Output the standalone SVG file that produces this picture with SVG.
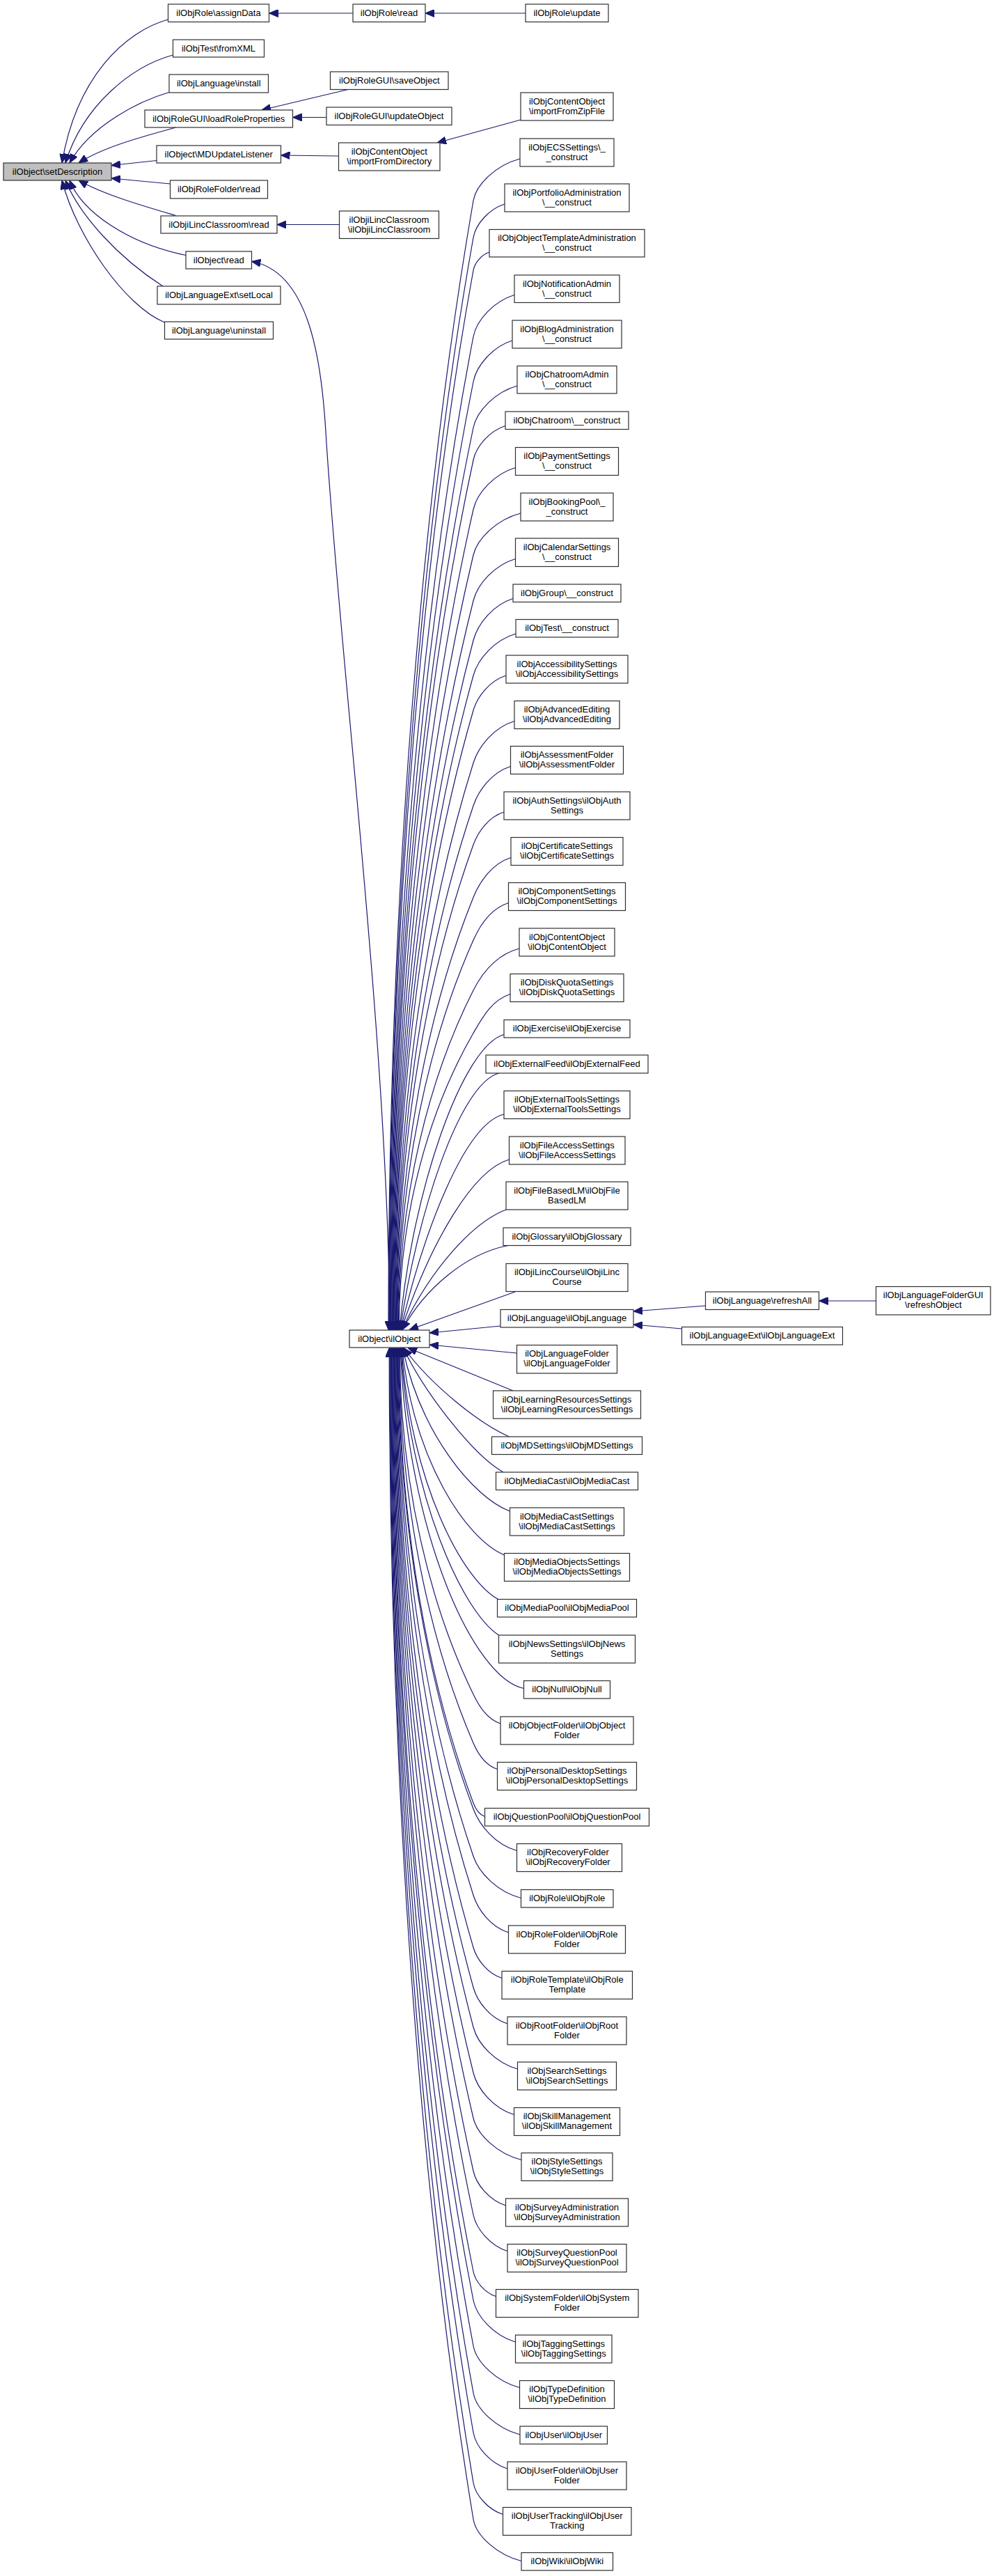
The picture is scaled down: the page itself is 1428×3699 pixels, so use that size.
<svg xmlns="http://www.w3.org/2000/svg" width="1428" height="3699" viewBox="0 0 1428 3699">
<defs>
<style>
.node rect{fill:#ffffff;stroke:#303030;stroke-width:1.2}
.root rect{fill:#bfbfbf}
.node text{font-family:"Liberation Sans",Arial,Helvetica,sans-serif;font-size:13px;fill:#000;text-anchor:middle}
.e{fill:none;stroke:#191970;stroke-width:1.2;marker-end:url(#ah)}
</style>
<marker id="ah" markerUnits="userSpaceOnUse" viewBox="0 0 13 11" markerWidth="13" markerHeight="11" refX="13" refY="5.5" orient="auto">
<path d="M0,0 L13,5.5 L0,11 z" fill="#191970" stroke="#191970" stroke-width="1"/>
</marker>
</defs>
<rect x="0" y="0" width="1428" height="3699" fill="#ffffff"/>
<g id="edges">
<path class="e" d="M241.5,28 C180,45 110,110 89,234"/>
<path class="e" d="M248.5,79 C190,95 120,150 94,234"/>
<path class="e" d="M243,132.5 C200,145 130,180 100,234"/>
<path class="e" d="M252.5,183 C210,195 150,210 113,234"/>
<path class="e" d="M225,230.5 L160,237.5"/>
<path class="e" d="M244.5,264 L160,256"/>
<path class="e" d="M252.5,309.5 C210,297 150,280 113,259"/>
<path class="e" d="M267,366.5 C185,350 118,305 100,259"/>
<path class="e" d="M234,411 C170,370 115,310 94,259"/>
<path class="e" d="M236.5,463 C180,440 110,340 89,259"/>
<path class="e" d="M507,19 L386.5,19"/>
<path class="e" d="M755,19 L611,19"/>
<path class="e" d="M500,128.5 L376,158"/>
<path class="e" d="M469,168.5 L420.5,168.5"/>
<path class="e" d="M486.5,224 L403.5,223"/>
<path class="e" d="M487.5,322.5 L398,322.5"/>
<path class="e" d="M748,172 L628,205"/>
<path class="e" d="M1013.5,1875 L910,1883"/>
<path class="e" d="M979.5,1908 L910,1902"/>
<path class="e" d="M1258.5,1868 L1176.5,1868"/>
<path class="e" d="M560,1909.5 C558,1500 488,950 468,620 C462,520 445,390 361.5,375.5"/>
<path class="e" d="M719,1904 L617,1914"/>
<path class="e" d="M742.5,1943 L617,1931"/>
<path class="e" d="M740,1855 L588,1909.5"/>
<path class="e" d="M737,1997 L586,1935.5"/>
<path class="e" d="M747,228 C713.5,237 684.2,264 680,288 C609.9,693.4 558,1260.9 558,1909.5"/>
<path class="e" d="M725,293 C702.5,300.2 683.4,321.8 680,341 C610.2,733.1 558.8,1282.1 558.8,1909.5"/>
<path class="e" d="M703,362 C691.5,365.9 681.9,377.6 680,388 C610.8,768.4 559.6,1300.9 559.6,1909.5"/>
<path class="e" d="M739,423.5 C709.5,432.5 684.6,459.5 680,483.5 C611.2,840 560.4,1339.1 560.4,1909.5"/>
<path class="e" d="M736,489 C708,497.9 684.7,524.4 680,548 C611.9,888.4 561.2,1364.9 561.2,1909.5"/>
<path class="e" d="M743,554 C711.5,563 685,590 680,614 C612,937.9 562,1391.3 562,1909.5"/>
<path class="e" d="M726,611.5 C703,618.9 684.2,640.9 680,660.5 C612.6,972.8 562.8,1409.9 562.8,1909.5"/>
<path class="e" d="M740.5,671.5 C710.3,680.5 685.4,707.5 680,731.5 C613.1,1026 563.6,1438.3 563.6,1909.5"/>
<path class="e" d="M748,737 C714,746 685.7,773 680,797 C613.5,1075.1 564.4,1464.5 564.4,1909.5"/>
<path class="e" d="M740.5,802.5 C710.3,811.5 686,838.5 680,862.5 C614,1124.3 565.2,1490.7 565.2,1909.5"/>
<path class="e" d="M737,859.5 C708.5,868.5 686.4,895.5 680,919.5 C614.4,1167 566,1513.5 566,1909.5"/>
<path class="e" d="M741,910 C710.5,919 686.6,946 680,970 C614.9,1204.9 566.8,1533.7 566.8,1909.5"/>
<path class="e" d="M727,970 C703.5,977.5 685.8,1000 680,1020 C615.3,1242.4 567.6,1553.7 567.6,1909.5"/>
<path class="e" d="M739,1035.5 C709.5,1044.5 687.6,1071.5 680,1095.5 C615.9,1299 568.4,1583.9 568.4,1909.5"/>
<path class="e" d="M733.5,1100.5 C706.8,1109 687.7,1134.4 680,1157 C616.2,1345.1 569.2,1608.5 569.2,1909.5"/>
<path class="e" d="M724,1166 C702,1173 686.8,1194.2 680,1213 C616.8,1387.1 570,1630.9 570,1909.5"/>
<path class="e" d="M734,1231.5 C707,1240 689.2,1265.7 680,1288.5 C617.3,1443.8 570.8,1661.1 570.8,1909.5"/>
<path class="e" d="M730.5,1296.5 C705.3,1304.5 689.5,1328.6 680,1350 C617.6,1489.9 571.6,1685.7 571.6,1909.5"/>
<path class="e" d="M746,1362 C713,1371 692.2,1398 680,1422 C618.1,1543.9 572.4,1714.5 572.4,1909.5"/>
<path class="e" d="M733,1427.5 C706.5,1435.9 692.9,1461.1 680,1483.5 C618.6,1590 573.2,1739.1 573.2,1909.5"/>
<path class="e" d="M724,1485.5 C664,1502.5 592,1710 574,1909.5"/>
<path class="e" d="M717,1541 C660,1555.7 599,1743.7 574.8,1909.5"/>
<path class="e" d="M724,1600 C667,1614 608.2,1770.2 575.6,1909.5"/>
<path class="e" d="M731.5,1665 C680,1680 620,1780 576.4,1909.5"/>
<path class="e" d="M727,1737 C680,1755 620,1820 577.2,1909.5"/>
<path class="e" d="M730,1788.5 C670,1800 610,1850 578,1909.5"/>
<path class="e" d="M731.5,2063 C690,2045 620,1990 580,1935.5"/>
<path class="e" d="M723,2114 C680,2090 610,2000 579.2,1935.5"/>
<path class="e" d="M732.5,2170 C680,2150 605,2060 578.4,1935.5"/>
<path class="e" d="M724.5,2233 C670,2210 595,2100 577.6,1935.5"/>
<path class="e" d="M716.5,2297 C665,2270 590,2130 576.8,1935.5"/>
<path class="e" d="M716.5,2348 C665,2315 588,2150 576,1935.5"/>
<path class="e" d="M752.5,2424.5 C680,2410 585,2200 575.2,1935.5"/>
<path class="e" d="M719,2475 C699.5,2468.7 688.2,2449.8 680,2433 C619.3,2308.6 574.4,2134.5 574.4,1935.5"/>
<path class="e" d="M714.5,2540.5 C697.3,2534.9 686.5,2518 680,2503 C618.8,2361.1 573.6,2162.5 573.6,1935.5"/>
<path class="e" d="M696.5,2608.5 C688.3,2605.6 682.9,2596.8 680,2589 C618.4,2425.6 572.8,2196.9 572.8,1935.5"/>
<path class="e" d="M742.5,2657.5 C711.3,2648.5 689,2621.5 680,2597.5 C617.9,2432 572,2200.3 572,1935.5"/>
<path class="e" d="M748.5,2725.5 C714.3,2716.5 688.2,2689.5 680,2665.5 C617.4,2483 571.2,2227.5 571.2,1935.5"/>
<path class="e" d="M730.5,2775 C705.3,2767 686.9,2742.9 680,2721.5 C616.9,2525 570.4,2249.9 570.4,1935.5"/>
<path class="e" d="M721,2840.5 C700.5,2833.9 685.2,2814.1 680,2796.5 C616.5,2581.3 569.6,2279.9 569.6,1935.5"/>
<path class="e" d="M729,2906 C704.5,2898.2 685.8,2874.8 680,2854 C616.2,2624.4 568.8,2302.9 568.8,1935.5"/>
<path class="e" d="M743.5,2971 C711.8,2962 686.3,2935 680,2911 C615.6,2667.1 568,2325.7 568,1935.5"/>
<path class="e" d="M738.5,3036.5 C709.3,3027.5 686,3000.5 680,2976.5 C615.2,2716.3 567.2,2351.9 567.2,1935.5"/>
<path class="e" d="M749,3101.5 C714.5,3092.5 685.7,3065.5 680,3041.5 C614.7,2765 566.4,2377.9 566.4,1935.5"/>
<path class="e" d="M726.5,3167 C703.3,3159.6 684.4,3137.3 680,3117.5 C614.1,2822 565.6,2408.3 565.6,1935.5"/>
<path class="e" d="M729,3232.5 C704.5,3224.7 684.4,3201.3 680,3180.5 C613.7,2869.3 564.8,2433.5 564.8,1935.5"/>
<path class="e" d="M712.5,3297.5 C696.3,3292.2 682.9,3276.2 680,3262 C613.3,2930.4 564,2466.1 564,1935.5"/>
<path class="e" d="M740.5,3363 C710.3,3354 684.7,3327 680,3303 C613,2961.1 563.2,2482.5 563.2,1935.5"/>
<path class="e" d="M746.5,3428.5 C713.3,3419.5 684.5,3392.5 680,3368.5 C612.3,3010.3 562.4,2508.7 562.4,1935.5"/>
<path class="e" d="M747,3496 C713.5,3487 684.3,3460 680,3436 C612.1,3060.9 561.6,2535.7 561.6,1935.5"/>
<path class="e" d="M729,3545 C704.5,3537.2 683.7,3513.8 680,3493 C611.5,3103.6 560.8,2558.5 560.8,1935.5"/>
<path class="e" d="M722.5,3610.5 C701.3,3603.7 683.1,3583.2 680,3565 C611.1,3157.6 560,2587.3 560,1935.5"/>
<path class="e" d="M749,3677.5 C714.5,3668.5 684,3641.5 680,3617.5 C610.6,3197 559.2,2608.3 559.2,1935.5"/>
</g>
<g id="n_setDescription" class="node root"><rect x="5" y="234" width="155" height="25"/><text x="82.5" y="250.5">ilObject\setDescription</text></g>
<g id="n_assignData" class="node"><rect x="241.5" y="6" width="145" height="25.5"/><text x="314" y="22.5">ilObjRole\assignData</text></g>
<g id="n_fromXML" class="node"><rect x="248.5" y="57" width="131" height="25"/><text x="314" y="73.5">ilObjTest\fromXML</text></g>
<g id="n_install" class="node"><rect x="243" y="107" width="142.5" height="26"/><text x="314.25" y="123.5">ilObjLanguage\install</text></g>
<g id="n_loadRoleProperties" class="node"><rect x="208" y="158" width="212.5" height="25"/><text x="314.25" y="174.5">ilObjRoleGUI\loadRoleProperties</text></g>
<g id="n_MDUpdateListener" class="node"><rect x="225" y="209" width="178.5" height="25"/><text x="314.25" y="225.5">ilObject\MDUpdateListener</text></g>
<g id="n_RoleFolderRead" class="node"><rect x="244.5" y="259" width="140" height="26"/><text x="314.5" y="275.5">ilObjRoleFolder\read</text></g>
<g id="n_iLincClassroomRead" class="node"><rect x="231" y="310" width="167" height="25"/><text x="314.5" y="326.5">ilObjiLincClassroom\read</text></g>
<g id="n_ilObjectRead" class="node"><rect x="267" y="361" width="94.5" height="25"/><text x="314.25" y="377.5">ilObject\read</text></g>
<g id="n_setLocal" class="node"><rect x="226" y="411" width="177" height="26"/><text x="314.5" y="427.5">ilObjLanguageExt\setLocal</text></g>
<g id="n_uninstall" class="node"><rect x="236.5" y="462" width="156" height="25"/><text x="314.5" y="478.5">ilObjLanguage\uninstall</text></g>
<g id="n_RoleRead" class="node"><rect x="507" y="6" width="104" height="25.5"/><text x="559" y="22.5">ilObjRole\read</text></g>
<g id="n_saveObject" class="node"><rect x="474.5" y="103" width="169.5" height="25.5"/><text x="559.25" y="119.5">ilObjRoleGUI\saveObject</text></g>
<g id="n_updateObject" class="node"><rect x="469" y="154" width="180" height="25.5"/><text x="559" y="170.5">ilObjRoleGUI\updateObject</text></g>
<g id="n_importFromDirectory" class="node"><rect x="486.5" y="205" width="145.5" height="40"/><text><tspan x="559.25" y="221.5">ilObjContentObject</tspan><tspan x="559.25" y="235.5">\importFromDirectory</tspan></text></g>
<g id="n_iLincClassroomCtor" class="node"><rect x="487.5" y="303" width="143" height="39.5"/><text><tspan x="559" y="319.5">ilObjiLincClassroom</tspan><tspan x="559" y="333.5">\ilObjiLincClassroom</tspan></text></g>
<g id="n_ilObjectCtor" class="node"><rect x="502" y="1910" width="115" height="25"/><text x="559.5" y="1926.5">ilObject\ilObject</text></g>
<g id="n_RoleUpdate" class="node"><rect x="755" y="6" width="119" height="25.5"/><text x="814.5" y="22.5">ilObjRole\update</text></g>
<g id="n_importFromZipFile" class="node"><rect x="748" y="133" width="133" height="40"/><text><tspan x="814.5" y="149.5">ilObjContentObject</tspan><tspan x="814.5" y="163.5">\importFromZipFile</tspan></text></g>
<g id="n_ECSSettings" class="node"><rect x="747" y="199" width="135" height="40"/><text><tspan x="814.5" y="215.5">ilObjECSSettings\_</tspan><tspan x="814.5" y="229.5">_construct</tspan></text></g>
<g id="n_Portfolio" class="node"><rect x="725" y="264" width="179" height="40"/><text><tspan x="814.5" y="280.5">ilObjPortfolioAdministration</tspan><tspan x="814.5" y="294.5">\__construct</tspan></text></g>
<g id="n_ObjectTemplate" class="node"><rect x="703" y="329.5" width="223" height="39.5"/><text><tspan x="814.5" y="346">ilObjObjectTemplateAdministration</tspan><tspan x="814.5" y="360">\__construct</tspan></text></g>
<g id="n_NotificationAdmin" class="node"><rect x="739" y="395" width="151" height="39.5"/><text><tspan x="814.5" y="411.5">ilObjNotificationAdmin</tspan><tspan x="814.5" y="425.5">\__construct</tspan></text></g>
<g id="n_BlogAdmin" class="node"><rect x="736" y="460" width="157" height="40"/><text><tspan x="814.5" y="476.5">ilObjBlogAdministration</tspan><tspan x="814.5" y="490.5">\__construct</tspan></text></g>
<g id="n_ChatroomAdmin" class="node"><rect x="743" y="525.5" width="143" height="39.5"/><text><tspan x="814.5" y="542">ilObjChatroomAdmin</tspan><tspan x="814.5" y="556">\__construct</tspan></text></g>
<g id="n_Chatroom" class="node"><rect x="726" y="591" width="177" height="25.5"/><text x="814.5" y="607.5">ilObjChatroom\__construct</text></g>
<g id="n_Payment" class="node"><rect x="740.5" y="642.5" width="148" height="40"/><text><tspan x="814.5" y="659">ilObjPaymentSettings</tspan><tspan x="814.5" y="673">\__construct</tspan></text></g>
<g id="n_BookingPool" class="node"><rect x="748" y="708" width="133" height="40"/><text><tspan x="814.5" y="724.5">ilObjBookingPool\_</tspan><tspan x="814.5" y="738.5">_construct</tspan></text></g>
<g id="n_Calendar" class="node"><rect x="740.5" y="773" width="148" height="40.5"/><text><tspan x="814.5" y="789.5">ilObjCalendarSettings</tspan><tspan x="814.5" y="803.5">\__construct</tspan></text></g>
<g id="n_Group" class="node"><rect x="737" y="839" width="155" height="25.5"/><text x="814.5" y="855.5">ilObjGroup\__construct</text></g>
<g id="n_Test" class="node"><rect x="741" y="889.5" width="147" height="25.5"/><text x="814.5" y="906">ilObjTest\__construct</text></g>
<g id="n_Accessibility" class="node"><rect x="727" y="941" width="175" height="40"/><text><tspan x="814.5" y="957.5">ilObjAccessibilitySettings</tspan><tspan x="814.5" y="971.5">\ilObjAccessibilitySettings</tspan></text></g>
<g id="n_AdvancedEditing" class="node"><rect x="739" y="1006.5" width="151" height="40"/><text><tspan x="814.5" y="1023">ilObjAdvancedEditing</tspan><tspan x="814.5" y="1037">\ilObjAdvancedEditing</tspan></text></g>
<g id="n_AssessmentFolder" class="node"><rect x="733.5" y="1071.5" width="162" height="40"/><text><tspan x="814.5" y="1088">ilObjAssessmentFolder</tspan><tspan x="814.5" y="1102">\ilObjAssessmentFolder</tspan></text></g>
<g id="n_AuthSettings" class="node"><rect x="724" y="1137" width="181" height="40"/><text><tspan x="814.5" y="1153.5">ilObjAuthSettings\ilObjAuth</tspan><tspan x="814.5" y="1167.5">Settings</tspan></text></g>
<g id="n_Certificate" class="node"><rect x="734" y="1202.5" width="161" height="40"/><text><tspan x="814.5" y="1219">ilObjCertificateSettings</tspan><tspan x="814.5" y="1233">\ilObjCertificateSettings</tspan></text></g>
<g id="n_Component" class="node"><rect x="730.5" y="1267.5" width="168" height="40"/><text><tspan x="814.5" y="1284">ilObjComponentSettings</tspan><tspan x="814.5" y="1298">\ilObjComponentSettings</tspan></text></g>
<g id="n_ContentObject" class="node"><rect x="746" y="1333" width="137" height="40"/><text><tspan x="814.5" y="1349.5">ilObjContentObject</tspan><tspan x="814.5" y="1363.5">\ilObjContentObject</tspan></text></g>
<g id="n_DiskQuota" class="node"><rect x="733" y="1398.5" width="163" height="40"/><text><tspan x="814.5" y="1415">ilObjDiskQuotaSettings</tspan><tspan x="814.5" y="1429">\ilObjDiskQuotaSettings</tspan></text></g>
<g id="n_Exercise" class="node"><rect x="724" y="1464.5" width="181" height="25.5"/><text x="814.5" y="1481">ilObjExercise\ilObjExercise</text></g>
<g id="n_ExternalFeed" class="node"><rect x="698" y="1515" width="233" height="26"/><text x="814.5" y="1531.5">ilObjExternalFeed\ilObjExternalFeed</text></g>
<g id="n_ExternalTools" class="node"><rect x="724" y="1566.5" width="181" height="40"/><text><tspan x="814.5" y="1583">ilObjExternalToolsSettings</tspan><tspan x="814.5" y="1597">\ilObjExternalToolsSettings</tspan></text></g>
<g id="n_FileAccess" class="node"><rect x="731.5" y="1632" width="166.5" height="40"/><text><tspan x="814.75" y="1648.5">ilObjFileAccessSettings</tspan><tspan x="814.75" y="1662.5">\ilObjFileAccessSettings</tspan></text></g>
<g id="n_FileBasedLM" class="node"><rect x="727" y="1697" width="175" height="40"/><text><tspan x="814.5" y="1713.5">ilObjFileBasedLM\ilObjFile</tspan><tspan x="814.5" y="1727.5">BasedLM</tspan></text></g>
<g id="n_Glossary" class="node"><rect x="723" y="1763" width="183" height="25.5"/><text x="814.5" y="1779.5">ilObjGlossary\ilObjGlossary</text></g>
<g id="n_iLincCourse" class="node"><rect x="727" y="1814.5" width="175" height="40"/><text><tspan x="814.5" y="1831">ilObjiLincCourse\ilObjiLinc</tspan><tspan x="814.5" y="1845">Course</tspan></text></g>
<g id="n_Language" class="node"><rect x="719" y="1880.5" width="191" height="25.5"/><text x="814.5" y="1897">ilObjLanguage\ilObjLanguage</text></g>
<g id="n_LanguageFolder" class="node"><rect x="742.5" y="1931.5" width="144" height="40.5"/><text><tspan x="814.5" y="1948">ilObjLanguageFolder</tspan><tspan x="814.5" y="1962">\ilObjLanguageFolder</tspan></text></g>
<g id="n_LearningResources" class="node"><rect x="708.5" y="1997" width="212" height="40"/><text><tspan x="814.5" y="2013.5">ilObjLearningResourcesSettings</tspan><tspan x="814.5" y="2027.5">\ilObjLearningResourcesSettings</tspan></text></g>
<g id="n_MDSettings" class="node"><rect x="706.5" y="2063" width="216" height="25.5"/><text x="814.5" y="2079.5">ilObjMDSettings\ilObjMDSettings</text></g>
<g id="n_MediaCast" class="node"><rect x="712.5" y="2114" width="204" height="25.5"/><text x="814.5" y="2130.5">ilObjMediaCast\ilObjMediaCast</text></g>
<g id="n_MediaCastSettings" class="node"><rect x="732.5" y="2165" width="164" height="40"/><text><tspan x="814.5" y="2181.5">ilObjMediaCastSettings</tspan><tspan x="814.5" y="2195.5">\ilObjMediaCastSettings</tspan></text></g>
<g id="n_MediaObjects" class="node"><rect x="724.5" y="2230.5" width="180" height="40"/><text><tspan x="814.5" y="2247">ilObjMediaObjectsSettings</tspan><tspan x="814.5" y="2261">\ilObjMediaObjectsSettings</tspan></text></g>
<g id="n_MediaPool" class="node"><rect x="714.5" y="2296.5" width="200" height="25.5"/><text x="814.5" y="2313">ilObjMediaPool\ilObjMediaPool</text></g>
<g id="n_NewsSettings" class="node"><rect x="716.5" y="2348" width="196" height="40"/><text><tspan x="814.5" y="2364.5">ilObjNewsSettings\ilObjNews</tspan><tspan x="814.5" y="2378.5">Settings</tspan></text></g>
<g id="n_Null" class="node"><rect x="752.5" y="2413.5" width="124" height="25.5"/><text x="814.5" y="2430">ilObjNull\ilObjNull</text></g>
<g id="n_ObjectFolder" class="node"><rect x="719" y="2465" width="191" height="40"/><text><tspan x="814.5" y="2481.5">ilObjObjectFolder\ilObjObject</tspan><tspan x="814.5" y="2495.5">Folder</tspan></text></g>
<g id="n_PersonalDesktop" class="node"><rect x="714.5" y="2530.5" width="200" height="40"/><text><tspan x="814.5" y="2547">ilObjPersonalDesktopSettings</tspan><tspan x="814.5" y="2561">\ilObjPersonalDesktopSettings</tspan></text></g>
<g id="n_QuestionPool" class="node"><rect x="696.5" y="2596.5" width="236" height="25.5"/><text x="814.5" y="2613">ilObjQuestionPool\ilObjQuestionPool</text></g>
<g id="n_RecoveryFolder" class="node"><rect x="742.5" y="2647.5" width="151" height="40"/><text><tspan x="816" y="2664">ilObjRecoveryFolder</tspan><tspan x="816" y="2678">\ilObjRecoveryFolder</tspan></text></g>
<g id="n_Role" class="node"><rect x="748.5" y="2713.5" width="132.5" height="25.5"/><text x="814.75" y="2730">ilObjRole\ilObjRole</text></g>
<g id="n_RoleFolder" class="node"><rect x="730.5" y="2765" width="168" height="40"/><text><tspan x="814.5" y="2781.5">ilObjRoleFolder\ilObjRole</tspan><tspan x="814.5" y="2795.5">Folder</tspan></text></g>
<g id="n_RoleTemplate" class="node"><rect x="721" y="2830.5" width="187.5" height="40"/><text><tspan x="814.75" y="2847">ilObjRoleTemplate\ilObjRole</tspan><tspan x="814.75" y="2861">Template</tspan></text></g>
<g id="n_RootFolder" class="node"><rect x="729" y="2896" width="171" height="40"/><text><tspan x="814.5" y="2912.5">ilObjRootFolder\ilObjRoot</tspan><tspan x="814.5" y="2926.5">Folder</tspan></text></g>
<g id="n_SearchSettings" class="node"><rect x="743.5" y="2961" width="142" height="40"/><text><tspan x="814.5" y="2977.5">ilObjSearchSettings</tspan><tspan x="814.5" y="2991.5">\ilObjSearchSettings</tspan></text></g>
<g id="n_SkillManagement" class="node"><rect x="738.5" y="3026.5" width="152" height="40"/><text><tspan x="814.5" y="3043">ilObjSkillManagement</tspan><tspan x="814.5" y="3057">\ilObjSkillManagement</tspan></text></g>
<g id="n_StyleSettings" class="node"><rect x="749" y="3091.5" width="131" height="40"/><text><tspan x="814.5" y="3108">ilObjStyleSettings</tspan><tspan x="814.5" y="3122">\ilObjStyleSettings</tspan></text></g>
<g id="n_SurveyAdministration" class="node"><rect x="726.5" y="3157" width="176" height="40"/><text><tspan x="814.5" y="3173.5">ilObjSurveyAdministration</tspan><tspan x="814.5" y="3187.5">\ilObjSurveyAdministration</tspan></text></g>
<g id="n_SurveyQuestionPool" class="node"><rect x="729" y="3222.5" width="171" height="40"/><text><tspan x="814.5" y="3239">ilObjSurveyQuestionPool</tspan><tspan x="814.5" y="3253">\ilObjSurveyQuestionPool</tspan></text></g>
<g id="n_SystemFolder" class="node"><rect x="712.5" y="3287.5" width="204.5" height="40"/><text><tspan x="814.75" y="3304">ilObjSystemFolder\ilObjSystem</tspan><tspan x="814.75" y="3318">Folder</tspan></text></g>
<g id="n_TaggingSettings" class="node"><rect x="740.5" y="3353" width="138.5" height="40"/><text><tspan x="809.75" y="3369.5">ilObjTaggingSettings</tspan><tspan x="809.75" y="3383.5">\ilObjTaggingSettings</tspan></text></g>
<g id="n_TypeDefinition" class="node"><rect x="746.5" y="3418.5" width="136" height="40"/><text><tspan x="814.5" y="3435">ilObjTypeDefinition</tspan><tspan x="814.5" y="3449">\ilObjTypeDefinition</tspan></text></g>
<g id="n_User" class="node"><rect x="747" y="3484" width="125.5" height="25.5"/><text x="809.75" y="3500.5">ilObjUser\ilObjUser</text></g>
<g id="n_UserFolder" class="node"><rect x="729" y="3535" width="171" height="40"/><text><tspan x="814.5" y="3551.5">ilObjUserFolder\ilObjUser</tspan><tspan x="814.5" y="3565.5">Folder</tspan></text></g>
<g id="n_UserTracking" class="node"><rect x="722.5" y="3600.5" width="184.5" height="40"/><text><tspan x="814.75" y="3617">ilObjUserTracking\ilObjUser</tspan><tspan x="814.75" y="3631">Tracking</tspan></text></g>
<g id="n_Wiki" class="node"><rect x="749" y="3665.5" width="131.5" height="25.5"/><text x="814.75" y="3682">ilObjWiki\ilObjWiki</text></g>
<g id="n_refreshAll" class="node"><rect x="1013.5" y="1855" width="163" height="25.5"/><text x="1095" y="1871.5">ilObjLanguage\refreshAll</text></g>
<g id="n_LanguageExt" class="node"><rect x="979.5" y="1905.5" width="231" height="25.5"/><text x="1095" y="1922">ilObjLanguageExt\ilObjLanguageExt</text></g>
<g id="n_LanguageFolderGUI" class="node"><rect x="1258.5" y="1847.5" width="164.5" height="40.5"/><text><tspan x="1340.75" y="1864">ilObjLanguageFolderGUI</tspan><tspan x="1340.75" y="1878">\refreshObject</tspan></text></g>
</svg>
